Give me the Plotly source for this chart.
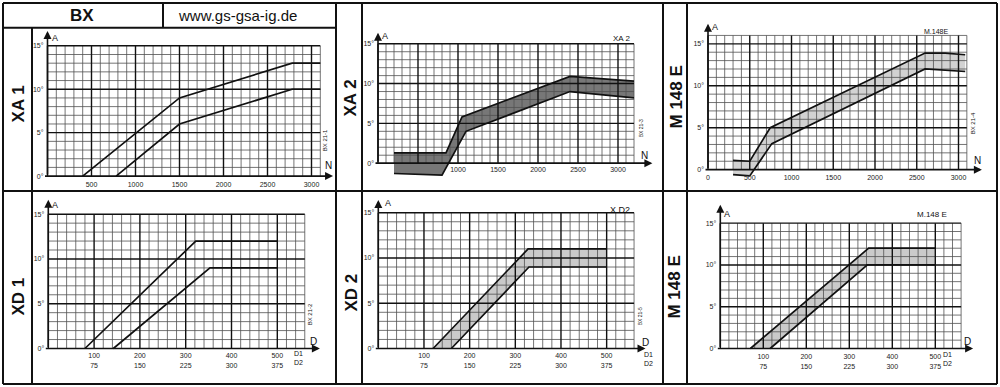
import plotly.graph_objects as go

W, H = 1000, 387

# ---------------- data ----------------
# XA 1 : advance A (deg) vs speed N (rpm), two limit curves
xa1_upper_n = [400, 1500, 2780, 3100]
xa1_upper_a = [0, 9, 13, 13]
xa1_lower_n = [780, 1500, 2780, 3100]
xa1_lower_a = [0, 6, 10, 10]

# XA 2 : tolerance band
xa2_upper_n = [200, 850, 1050, 2400, 3200]
xa2_upper_a = [1.3, 1.3, 5.8, 10.9, 10.3]
xa2_lower_n = [200, 800, 1100, 2400, 3200]
xa2_lower_a = [-1.3, -1.5, 4.0, 9.0, 8.2]

# M 148 E (speed) : tolerance band
m148n_upper_n = [300, 500, 745, 2600, 2840, 3080]
m148n_upper_a = [1.1, 1.0, 5.0, 13.9, 13.9, 13.7]
m148n_lower_n = [300, 500, 765, 2600, 3080]
m148n_lower_a = [-0.6, -0.75, 3.1, 12.0, 11.7]

# XD 1 : advance A vs depression D (D1 scale)
xd1_upper_d = [80, 322, 500]
xd1_upper_a = [0, 12, 12]
xd1_lower_d = [142, 353, 500]
xd1_lower_a = [0, 9, 9]

# XD 2 : tolerance band
xd2_upper_d = [120, 328, 500]
xd2_upper_a = [0, 11, 11]
xd2_lower_d = [160, 330, 500]
xd2_lower_a = [0, 9, 9]

# M 148 E (depression) : tolerance band
m148d_upper_d = [70, 345, 500]
m148d_upper_a = [0, 12, 12]
m148d_lower_d = [116, 342, 500]
m148d_lower_a = [0, 10, 10]

# tick labels
deg_ticks = [0, 5, 10, 15]
deg_labels = ["0°", "5°", "10°", "15°"]
rpm_ticks_xa1 = [500, 1000, 1500, 2000, 2500, 3000]
rpm_ticks_xa2 = [1000, 1500, 2000, 2500, 3000]
rpm_ticks_m148 = [0, 500, 1000, 1500, 2000, 2500, 3000]
d1_ticks = [100, 200, 300, 400, 500]
d2_ticks = [75, 150, 225, 300, 375]

# ---------------- layout helpers ----------------
fig = go.Figure()
INK = "#111111"
FONT = "Liberation Sans"


def P(x, y):
    return x / W, 1 - y / H


def line_px(x0, y0, x1, y1, w=2):
    a, b = P(x0, y0)
    c, d = P(x1, y1)
    fig.add_shape(type="line", xref="paper", yref="paper", x0=a, y0=b, x1=c, y1=d,
                  line=dict(color=INK, width=w))


def text_px(x, y, s, size=8, bold=False, angle=0, xanchor="center", yanchor="middle", family=FONT):
    a, b = P(x, y)
    if bold:
        s = "<b>" + s + "</b>"
    fig.add_annotation(x=a, y=b, xref="paper", yref="paper", text=s, showarrow=False,
                       font=dict(size=size, color=INK, family=family), textangle=angle,
                       xanchor=xanchor, yanchor=yanchor)


panels = [
    dict(ox=47.5, sx=0.088, oy=176.0, sy=8.73, gx=3100, gy=15, xmin_step=100, xmaj_step=500,
         pb=3, stand=0, xtip=3245, ytip=16.7,
         tickvals=rpm_ticks_xa1, ticktext=[str(v) for v in rpm_ticks_xa1]),
    dict(ox=378.0, sx=0.080, oy=163.0, sy=8.0, gx=3200, gy=15, xmin_step=100, xmaj_step=500,
         pb=14, stand=-13, xtip=3430, ytip=16.4,
         tickvals=rpm_ticks_xa2, ticktext=[str(v) for v in rpm_ticks_xa2]),
    dict(ox=708.0, sx=0.0835, oy=169.5, sy=8.43, gx=3100, gy=16, xmin_step=100, xmaj_step=500,
         pb=8, stand=-6, xtip=3280, ytip=17.4,
         tickvals=rpm_ticks_m148, ticktext=[str(v) for v in rpm_ticks_m148]),
    dict(ox=48.3, sx=0.458, oy=349.3, sy=9.0, gx=560, gy=15, xmin_step=20, xmaj_step=100,
         pb=2, stand=0, xtip=593, ytip=16.6,
         tickvals=d1_ticks, ticktext=[f"{a}<br>{b}" for a, b in zip(d1_ticks, d2_ticks)]),
    dict(ox=378.3, sx=0.4567, oy=349.3, sy=9.1, gx=560, gy=15, xmin_step=20, xmaj_step=100,
         pb=2, stand=0, xtip=585, ytip=16.4,
         tickvals=d1_ticks, ticktext=[f"{a}<br>{b}" for a, b in zip(d1_ticks, d2_ticks)]),
    dict(ox=720.3, sx=0.43, oy=349.3, sy=8.4, gx=560, gy=15, xmin_step=20, xmaj_step=100,
         pb=3, stand=0, xtip=588, ytip=17.2,
         tickvals=d1_ticks, ticktext=[f"{a}<br>{b}" for a, b in zip(d1_ticks, d2_ticks)]),
]

series = [
    dict(band=False, up=(xa1_upper_n, xa1_upper_a), lo=(xa1_lower_n, xa1_lower_a)),
    dict(band=True, fill="rgba(95,95,95,0.85)", up=(xa2_upper_n, xa2_upper_a), lo=(xa2_lower_n, xa2_lower_a)),
    dict(band=True, fill="#d2d2d2", up=(m148n_upper_n, m148n_upper_a), lo=(m148n_lower_n, m148n_lower_a)),
    dict(band=False, up=(xd1_upper_d, xd1_upper_a), lo=(xd1_lower_d, xd1_lower_a)),
    dict(band=True, fill="#cacaca", up=(xd2_upper_d, xd2_upper_a), lo=(xd2_lower_d, xd2_lower_a)),
    dict(band=True, fill="#cacaca", up=(m148d_upper_d, m148d_upper_a), lo=(m148d_lower_d, m148d_lower_a)),
]

for i, (p, s) in enumerate(zip(panels, series), start=1):
    xr = "x" if i == 1 else f"x{i}"
    yr = "y" if i == 1 else f"y{i}"
    xa = "xaxis" if i == 1 else f"xaxis{i}"
    ya = "yaxis" if i == 1 else f"yaxis{i}"
    left_pad, right_pad, top_pad = 4, 6, 3
    x0 = -left_pad / p["sx"]
    x1 = p["gx"] + right_pad / p["sx"]
    y0 = -p["pb"] / p["sy"]
    y1 = p["gy"] + top_pad / p["sy"]
    xd = [(p["ox"] - left_pad) / W, (p["ox"] + p["sx"] * x1) / W]
    yd = [1 - (p["oy"] + p["pb"]) / H, 1 - (p["oy"] - p["sy"] * y1) / H]

    fig.layout[xa] = dict(domain=xd, range=[x0, x1], anchor=yr, showgrid=False, zeroline=False,
                          showline=False, ticks="", tickmode="array", tickvals=p["tickvals"],
                          ticktext=p["ticktext"], ticklabelstandoff=p["stand"],
                          tickfont=dict(size=7, color="#222", family=FONT), fixedrange=True)
    fig.layout[ya] = dict(domain=yd, range=[y0, y1], anchor=xr, showgrid=False, zeroline=False,
                          showline=False, ticks="", tickmode="array", tickvals=deg_ticks,
                          ticktext=deg_labels, ticklabelstandoff=-1,
                          tickfont=dict(size=7, color="#222", family=FONT), fixedrange=True)

    # band fill (below grid)
    if s["band"]:
        bx = list(s["up"][0]) + list(reversed(s["lo"][0]))
        by = list(s["up"][1]) + list(reversed(s["lo"][1]))
        fig.add_trace(go.Scatter(x=bx, y=by, xaxis=xr, yaxis=yr, fill="toself", fillcolor=s["fill"],
                                 mode="none", hoverinfo="skip", showlegend=False))

    # grid
    minx, miny, majx, majy = [], [], [], []
    n = 0
    while n <= p["gx"]:
        if n % p["xmaj_step"] == 0:
            majx += [n, n, None]; majy += [0, p["gy"], None]
        else:
            minx += [n, n, None]; miny += [0, p["gy"], None]
        n += p["xmin_step"]
    for a in range(1, p["gy"] + 1):
        if a % 5 == 0:
            majx += [0, p["gx"], None]; majy += [a, a, None]
        else:
            minx += [0, p["gx"], None]; miny += [a, a, None]
    fig.add_trace(go.Scatter(x=minx, y=miny, xaxis=xr, yaxis=yr, mode="lines",
                             line=dict(color="#505050", width=0.8), hoverinfo="skip", showlegend=False))
    fig.add_trace(go.Scatter(x=majx, y=majy, xaxis=xr, yaxis=yr, mode="lines",
                             line=dict(color=INK, width=1.4), hoverinfo="skip", showlegend=False))

    # curves
    for xs, ys in (s["up"], s["lo"]):
        fig.add_trace(go.Scatter(x=xs, y=ys, xaxis=xr, yaxis=yr, mode="lines",
                                 line=dict(color=INK, width=1.7), hoverinfo="skip", showlegend=False))

    # axes with arrows
    fig.add_annotation(x=p["xtip"], y=0, ax=-4 / p["sx"], ay=0, xref=xr, yref=yr, axref=xr, ayref=yr,
                       text="", showarrow=True, arrowhead=2, arrowsize=1, arrowwidth=1.6,
                       arrowcolor=INK, standoff=0, startstandoff=0)
    fig.add_annotation(x=0, y=p["ytip"], ax=0, ay=0, xref=xr, yref=yr, axref=xr, ayref=yr,
                       text="", showarrow=True, arrowhead=2, arrowsize=1, arrowwidth=1.6,
                       arrowcolor=INK, standoff=0, startstandoff=0)

# ---------------- frame ----------------
line_px(3, 2, 997, 2)
line_px(3, 385, 997, 385)
line_px(3, 2, 3, 385)
line_px(997, 2, 997, 385)
line_px(336, 2, 336, 385)
line_px(663, 2, 663, 385)
line_px(32, 27, 32, 385)
line_px(362, 2, 362, 385)
line_px(687, 2, 687, 385)
line_px(3, 191, 997, 191)
line_px(3, 27, 336, 27)
line_px(163, 2, 163, 27)

# ---------------- texts ----------------
text_px(82, 15, "BX", size=17, bold=True)
text_px(237, 15, "www.gs-gsa-ig.de", size=15)

text_px(18, 104, "XA 1", size=17, bold=True, angle=-90)
text_px(18, 297, "XD 1", size=17, bold=True, angle=-90)
text_px(350, 98, "XA 2", size=17, bold=True, angle=-90)
text_px(351, 293, "XD 2", size=17, bold=True, angle=-90)
text_px(676, 97, "M 148 E", size=17, bold=True, angle=-90)
text_px(675, 288, "M 148 E", size=17, bold=True, angle=-90)

# XA 1
text_px(55, 37, "A", size=9)
text_px(328, 165, "N", size=10)
text_px(325, 140, "BX 21-1", size=6, angle=-90)
# XA 2
text_px(385, 35, "A", size=9)
text_px(621, 38, "XA 2", size=8)
text_px(644, 155, "N", size=10)
text_px(641, 128, "BX 21-3", size=5, angle=-90)
# M 148 E (N)
text_px(715, 26, "A", size=9)
text_px(936, 31, "M.148E", size=7)
text_px(977, 160, "N", size=10)
text_px(973, 123, "BX 21-4", size=6, angle=-90)
# XD 1
text_px(55, 205, "A", size=9)
text_px(313, 342, "D", size=10)
text_px(298, 359, "D1<br>D2", size=7)
text_px(310, 315, "BX 21-2", size=6, angle=-90)
# XD 2
text_px(388, 203, "A", size=9)
text_px(620, 210, "X D2", size=9)
text_px(645, 343, "D", size=10)
text_px(648, 360, "D1<br>D2", size=7)
text_px(640, 317, "BX 21-5", size=5, angle=-90)
# M 148 E (D)
text_px(727, 214, "A", size=9)
text_px(932, 215, "M.148 E", size=8)
text_px(967, 342, "D", size=10)
text_px(947, 360, "D1<br>D2", size=7)

fig.update_layout(width=W, height=H, margin=dict(l=0, r=0, t=0, b=0),
                  paper_bgcolor="white", plot_bgcolor="rgba(0,0,0,0)", showlegend=False)

fig.write_html("out.html", config={"displayModeBar": False},
               post_script="document.body.style.margin='0px';")
